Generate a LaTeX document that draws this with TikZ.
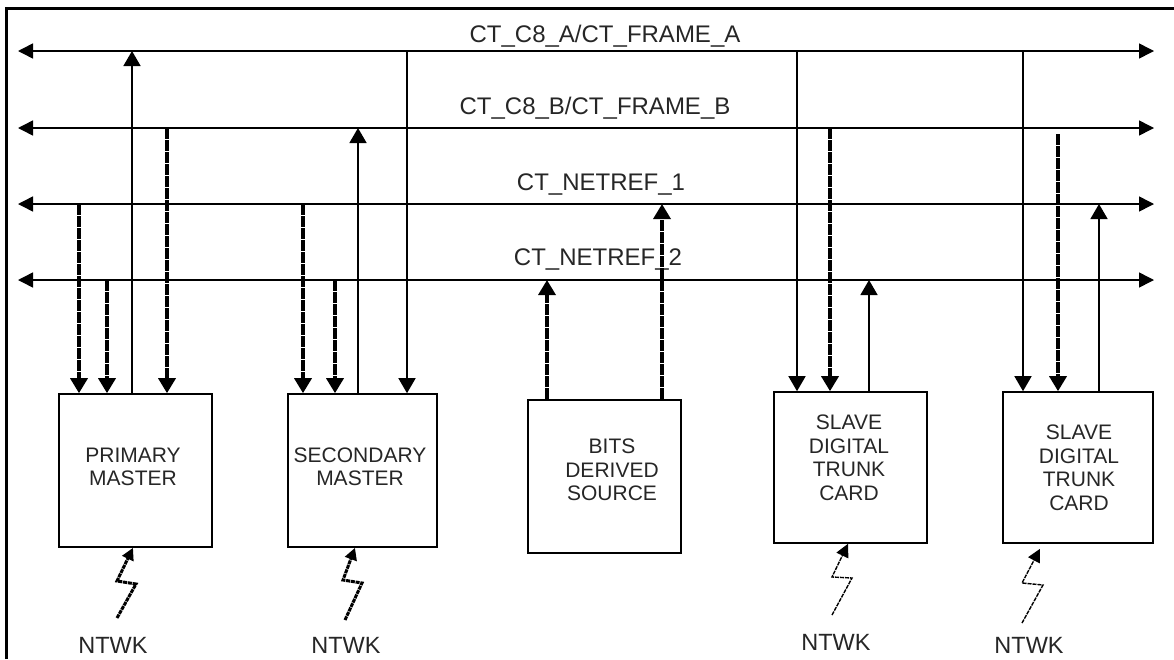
\documentclass[tikz,border=0pt]{standalone}
\usepackage{fontspec}
\setmainfont{Liberation Sans}
\usetikzlibrary{arrows.meta,calc}
\tikzset{
  frameline/.style={line width=3pt},
  bus/.style={line width=1.5pt, {Triangle[length=15pt,width=15pt]}-{Triangle[length=15pt,width=15pt]}},
  sig/.style={line width=1.5pt, -{Triangle[length=15pt,width=17pt]}},
  dsig/.style={line width=3.4pt, dash pattern=on 11pt off 1pt, -{Triangle[length=15pt,width=17pt]}},
  box/.style={draw, line width=1.6pt, rectangle, inner sep=0pt},
  boxtext/.style={align=center, text=black!85, font=\fontsize{21}{23.5}\selectfont},
  buslabel/.style={anchor=base, text=black!85, font=\fontsize{24}{28}\selectfont},
  ntwk/.style={text=black!85, font=\fontsize{23.5}{28}\selectfont},
  heavybolt/.style={line width=3pt, dash pattern=on 4pt off 0.8pt, -{Triangle[length=12pt,width=12pt]}},
  thinbolt/.style={line width=1.4pt, dash pattern=on 4pt off 1pt, -{Triangle[length=13pt,width=13pt]}}
}
\begin{document}
\begin{tikzpicture}[x=1pt,y=-1pt]
\useasboundingbox (0,0) rectangle (1174,659);
% frame
\draw[frameline] (6,659) -- (6,8) -- (1174,8);

% buses
\coordinate (aL) at (18,51);  \coordinate (aR) at (1154,51);
\coordinate (bL) at (18,128); \coordinate (bR) at (1154,128);
\coordinate (cL) at (18,204); \coordinate (cR) at (1154,204);
\coordinate (dL) at (18,280); \coordinate (dR) at (1154,280);
\draw[bus] (aL) -- (aR);
\draw[bus] (bL) -- (bR);
\draw[bus] (cL) -- (cR);
\draw[bus] (dL) -- (dR);
\node[buslabel] (la) at (605,42) {CT\_C8\_A/CT\_FRAME\_A};
\node[buslabel] (lb) at (595,114) {CT\_C8\_B/CT\_FRAME\_B};
\node[buslabel] (lc) at (601,190) {CT\_NETREF\_1};
\node[buslabel] (ld) at (598,265) {CT\_NETREF\_2};

% boxes
\node[box, minimum width=153pt, minimum height=153pt] (pm) at (135.5,470.5) {};
\node[box, minimum width=149pt, minimum height=153pt] (sm) at (362.5,470.5) {};
\node[box, minimum width=153pt, minimum height=153pt] (bd) at (604.5,476.5) {};
\node[box, minimum width=153pt, minimum height=151pt] (s1) at (850.5,467.5) {};
\node[box, minimum width=150pt, minimum height=151pt] (s2) at (1078,467.5) {};
\node[boxtext] (pmt) at (133,467) {PRIMARY\\MASTER};
\node[boxtext] (smt) at (360,467) {SECONDARY\\MASTER};
\node[boxtext] (bdt) at (612,470) {BITS\\DERIVED\\SOURCE};
\node[boxtext] (s1t) at (849,458) {SLAVE\\DIGITAL\\TRUNK\\CARD};
\node[boxtext] (s2t) at (1079,468) {SLAVE\\DIGITAL\\TRUNK\\CARD};

% tap points on buses
\coordinate (p1) at (79,204);
\coordinate (p2) at (107,280);
\coordinate (p3) at (132,51);
\coordinate (p4) at (167,128);
\coordinate (q1) at (303,204);
\coordinate (q2) at (335,280);
\coordinate (q3) at (358,128);
\coordinate (q4) at (407,51);
\coordinate (r1) at (547,280);
\coordinate (r2) at (662,204);
\coordinate (u1) at (797,51);
\coordinate (u2) at (830,128);
\coordinate (u3) at (869,280);
\coordinate (v1) at (1023,51);
\coordinate (v2) at (1058,134);
\coordinate (v3) at (1099,204);

% primary master
\draw[dsig] (p1) -- (p1 |- pm.north);
\draw[dsig] (p2) -- (p2 |- pm.north);
\draw[sig] (p3 |- pm.north) -- (p3);
\draw[dsig] (p4) -- (p4 |- pm.north);
% secondary master
\draw[dsig] (q1) -- (q1 |- sm.north);
\draw[dsig] (q2) -- (q2 |- sm.north);
\draw[sig] (q3 |- sm.north) -- (q3);
\draw[sig] (q4) -- (q4 |- sm.north);
% bits derived source
\draw[dsig] (r1 |- bd.north) -- (r1);
\draw[dsig] (r2 |- bd.north) -- (r2);
% slave 1
\draw[sig] (u1) -- (u1 |- s1.north);
\draw[dsig] (u2) -- (u2 |- s1.north);
\draw[sig] (u3 |- s1.north) -- (u3);
% slave 2
\draw[sig] (v1) -- (v1 |- s2.north);
\draw[dsig] (v2) -- (v2 |- s2.north);
\draw[sig] (v3 |- s2.north) -- (v3);

% network inputs
\node[ntwk] (n1) at (113,645) {NTWK};
\node[ntwk] (n2) at (346,645) {NTWK};
\node[ntwk] (n3) at (836,642) {NTWK};
\node[ntwk] (n4) at (1029,645) {NTWK};
\coordinate (z1) at (117,618);
\coordinate (z2) at (345,620);
\coordinate (z3) at (832,615);
\coordinate (z4) at (1022,623);
\draw[heavybolt] (z1) -- (136,584) -- (117,581) -- ($(pm.south)+(-2.5,0)$);
\draw[heavybolt] (z2) -- (362,583) -- (343,580) -- ($(sm.south)+(-7.5,0)$);
\draw[thinbolt] (z3) -- (852,578) -- (832,577) -- ($(s1.south)+(-2.5,0)$);
\draw[thinbolt] (z4) -- (1043,585) -- (1022,583) -- ($(s2.south)+(-38,5)$);
\end{tikzpicture}
\end{document}
